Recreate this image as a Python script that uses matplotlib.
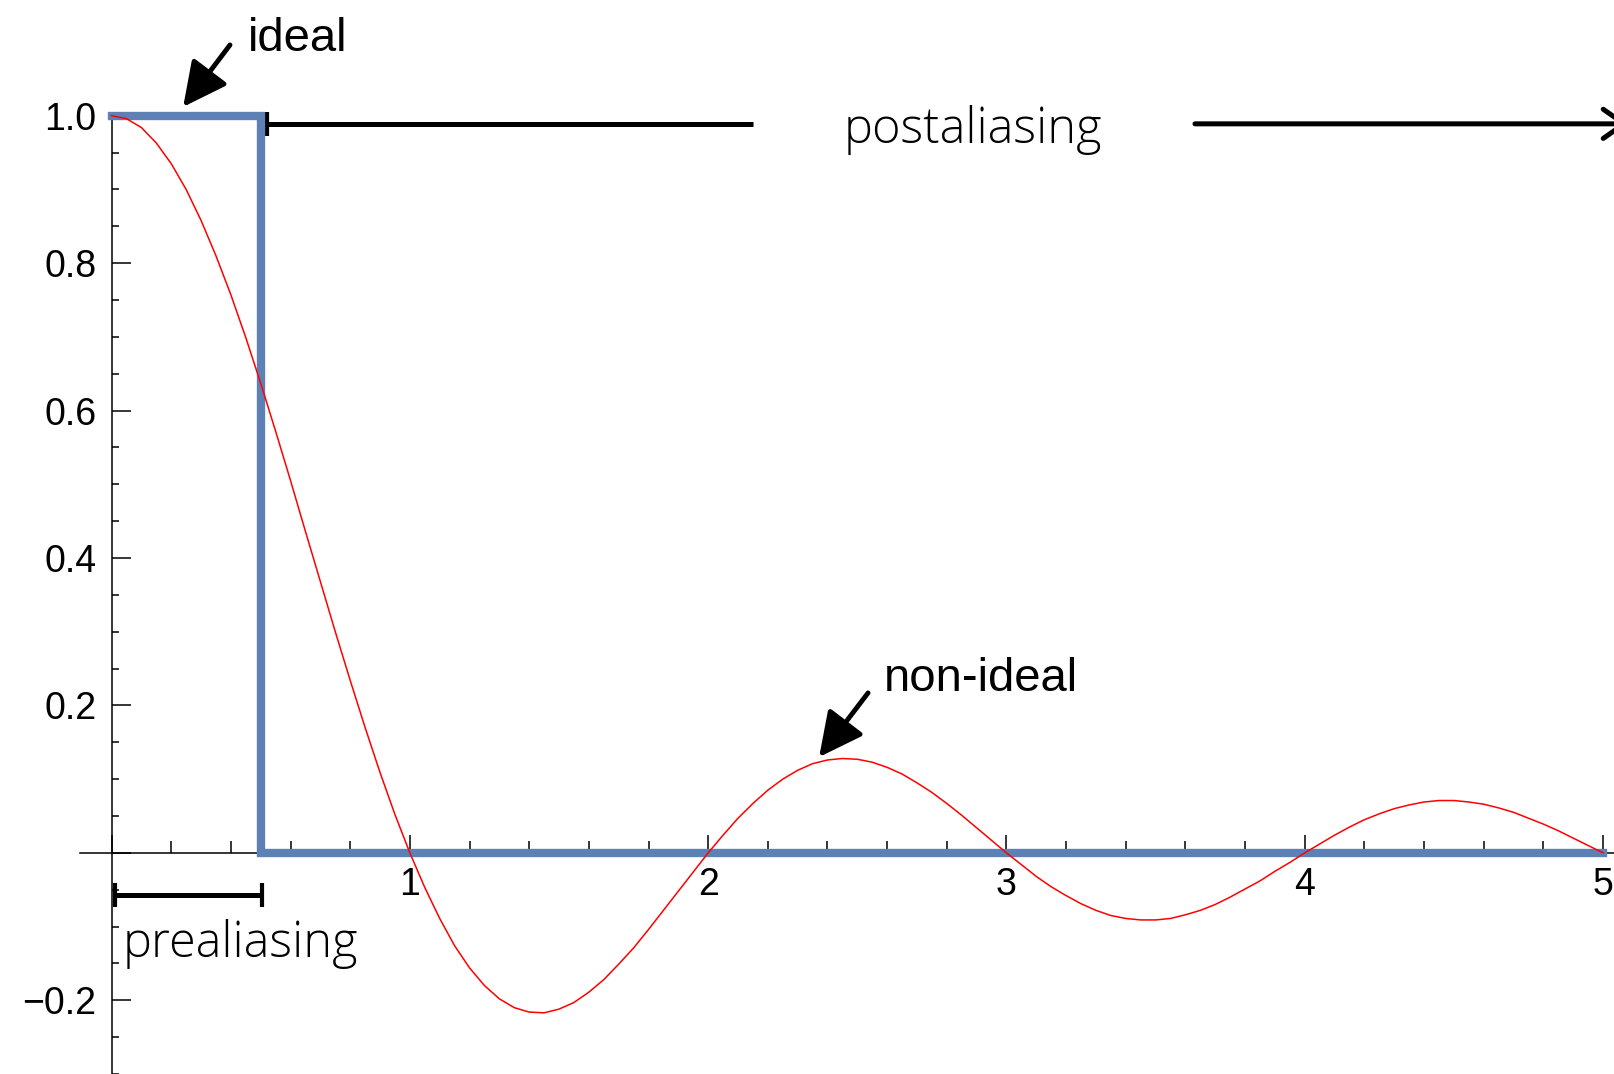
import numpy as np
import matplotlib.pyplot as plt
from matplotlib.ticker import FixedLocator

plt.rcParams['font.family'] = ['Liberation Sans', 'DejaVu Sans']

# sampled response of the non-ideal filter, step 0.05 from 0 to 5
x_vals = np.arange(0, 101) * 0.05
nonideal = [
    1.000, 0.996, 0.984, 0.963, 0.935, 0.900, 0.858, 0.810, 0.757, 0.699,
    0.637, 0.572, 0.505, 0.436, 0.368, 0.300, 0.234, 0.170, 0.109, 0.052,
    0.000, -0.047, -0.089, -0.126, -0.156, -0.180, -0.198, -0.210, -0.216, -0.217,
    -0.212, -0.203, -0.189, -0.172, -0.151, -0.129, -0.104, -0.078, -0.052, -0.026,
    0.000, 0.024, 0.047, 0.067, 0.085, 0.100, 0.112, 0.121, 0.126, 0.128,
    0.127, 0.123, 0.116, 0.107, 0.095, 0.082, 0.067, 0.051, 0.034, 0.017,
    0.000, -0.016, -0.032, -0.046, -0.058, -0.069, -0.078, -0.085, -0.089, -0.091,
    -0.091, -0.089, -0.084, -0.078, -0.070, -0.060, -0.049, -0.038, -0.025, -0.013,
    0.000, 0.012, 0.024, 0.035, 0.045, 0.053, 0.060, 0.065, 0.069, 0.071,
    0.071, 0.069, 0.066, 0.061, 0.055, 0.047, 0.039, 0.030, 0.020, 0.010,
    0.000,
]

# ideal box filter
ideal_x = [0, 0.5, 0.5, 5]
ideal_y = [1, 1, 0, 0]

x_major = [0, 1, 2, 3, 4, 5]
x_labels = ['', '1', '2', '3', '4', '5']
y_major = [-0.2, 0, 0.2, 0.4, 0.6, 0.8, 1.0]
y_labels = ['\u22120.2', '', '0.2', '0.4', '0.6', '0.8', '1.0']

fig = plt.figure(figsize=(16.15, 10.74), dpi=100)
ax = fig.add_axes([0, 0, 1, 1])
ax.set_xlim(-0.374, 5.040)
ax.set_ylim(-0.300, 1.157)

for s in ['top', 'right']:
    ax.spines[s].set_visible(False)
ax.spines['left'].set_position(('data', 0))
ax.spines['bottom'].set_position(('data', 0))
ax.spines['left'].set_bounds(-0.3, 1.0)
ax.spines['bottom'].set_bounds(-0.106, 5.04)
for s in ['left', 'bottom']:
    ax.spines[s].set_linewidth(1.1)

ax.set_xticks(x_major)
ax.set_xticklabels(x_labels)
ax.set_yticks(y_major)
ax.set_yticklabels(y_labels)
ax.xaxis.set_minor_locator(FixedLocator([i * 0.2 for i in range(26) if i % 5]))
ax.yaxis.set_minor_locator(FixedLocator([-0.3 + i * 0.05 for i in range(27) if (i % 4) != 2]))

ax.tick_params(axis='x', which='major', direction='in', length=13, width=1.1, pad=10, labelsize=27)
ax.tick_params(axis='x', which='minor', direction='in', length=8.6, width=1.1)
ax.tick_params(axis='y', which='major', direction='in', length=13.7, width=1.1, pad=11, labelsize=27)
ax.tick_params(axis='y', which='minor', direction='in', length=5, width=1.1)

ax.plot(ideal_x, ideal_y, color='#5E81B5', lw=6, solid_capstyle='projecting',
        solid_joinstyle='miter', zorder=3)
ax.plot(x_vals, nonideal, color='red', lw=1.1, zorder=4)

# labelled arrows
arrow_kw = dict(arrowstyle='-|>,head_length=0.9,head_width=0.45', lw=3.5, color='k',
                mutation_scale=30, shrinkA=0, shrinkB=0)
ax.annotate('', xy=(0.240, 1.012), xytext=(0.397, 1.096), arrowprops=arrow_kw)
ax.text(0.4576, 1.088, 'ideal', fontsize=34, ha='left', va='baseline')
ax.annotate('', xy=(2.372, 0.130), xytext=(2.536, 0.217), arrowprops=arrow_kw)
ax.text(2.590, 0.2195, 'non-ideal', fontsize=34, ha='left', va='baseline')

# postaliasing range
light = dict(family=['Open Sans', 'DejaVu Sans'], weight='light')
ypost = 0.989
ax.plot([0.520, 2.150], [ypost, ypost], color='k', lw=3.6, solid_capstyle='butt')
ax.plot([0.520, 0.520], [ypost - 0.0163, ypost + 0.0163], color='k', lw=3, solid_capstyle='butt')
ax.annotate('', xy=(5.085, ypost), xytext=(3.632, ypost), annotation_clip=False,
            arrowprops=dict(arrowstyle='->,head_length=0.5,head_width=0.35', lw=3.6,
                            color='k', mutation_scale=30, shrinkA=0, shrinkB=0))
ax.text(2.888, 0.963, 'postaliasing', fontsize=35, ha='center', va='baseline', **light)

# prealiasing range
ypre = -0.0573
ax.plot([0.0117, 0.5045], [ypre, ypre], color='k', lw=3.6, solid_capstyle='butt')
for xb in [0.0117, 0.5045]:
    ax.plot([xb, xb], [ypre - 0.0163, ypre + 0.0163], color='k', lw=3, solid_capstyle='butt')
ax.text(0.0386, -0.1417, 'prealiasing', fontsize=35, ha='left', va='baseline', **light)

fig.savefig('out.png', dpi=100)
